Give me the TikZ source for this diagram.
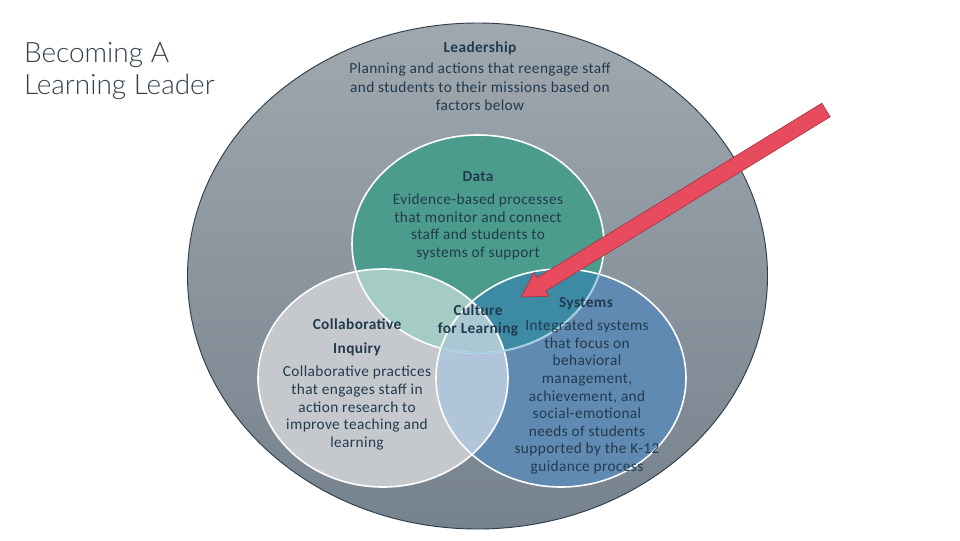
\documentclass[tikz,border=0pt]{standalone}
\usepackage{fontspec}
\setmainfont{Carlito}[LetterSpace=2.5]
\newfontfamily\titlefont{Lato Light}
\definecolor{bigtop}{RGB}{160,168,175}
\definecolor{bigbot}{RGB}{118,130,141}
\definecolor{bigedge}{RGB}{45,62,76}
\definecolor{datac}{RGB}{76,156,141}
\definecolor{collc}{RGB}{197,201,205}
\definecolor{sysc}{RGB}{96,138,178}
\definecolor{dcc}{RGB}{164,204,197}
\definecolor{dsc}{RGB}{60,138,163}
\definecolor{csc}{RGB}{176,197,218}
\definecolor{allc}{RGB}{170,200,212}
\definecolor{txt}{RGB}{34,58,78}
\definecolor{titlec}{RGB}{52,64,76}
\definecolor{arrowc}{RGB}{233,75,94}
\definecolor{arrowe}{RGB}{160,45,60}
\definecolor{ringblue}{RGB}{165,205,228}
\def\dataE{(478,244) ellipse [x radius=94.5pt, y radius=81.75pt]}
\def\collE{(383,378) ellipse [x radius=93.75pt, y radius=81.75pt]}
\def\sysE{(561,378) ellipse [x radius=93.75pt, y radius=81.75pt]}
\begin{document}
\begin{tikzpicture}[x=0.75pt,y=-0.75pt,
  every node/.style={inner sep=0pt, outer sep=0pt},
  head/.style={font=\fontsize{11.5}{13.5}\selectfont\bfseries, text=txt, align=center},
  body/.style={font=\fontsize{11.5}{13.2}\selectfont, text=txt, align=center},
  ring/.style={draw=white, line width=1.2pt}]
\useasboundingbox (0,0) rectangle (960,540);
\fill[white] (0,0) rectangle (960,540);
% outer leadership ellipse
\shadedraw[top color=bigtop, bottom color=bigbot, draw=bigedge, line width=0.7pt]
  (477.5,276) ellipse [x radius=217.5pt, y radius=189.75pt];
% venn fills
\fill[datac] \dataE;
\fill[collc] \collE;
\fill[sysc] \sysE;
\begin{scope}\clip \dataE; \fill[dcc] \collE;\end{scope}
\begin{scope}\clip \dataE; \fill[dsc] \sysE;\end{scope}
\begin{scope}\clip \collE; \fill[csc] \sysE;\end{scope}
\begin{scope}\clip \dataE; \clip \collE; \fill[allc] \sysE;\end{scope}
\draw[ring] \collE;
\draw[ring] \sysE;
\draw[ring] \dataE;
\begin{scope}\clip \sysE; \draw[ring, draw=ringblue] \dataE;\end{scope}
% title
\node[anchor=west, text=titlec, align=left, font=\titlefont\fontsize{21}{24}\selectfont] (title) at (24,71) {Becoming A\\Learning Leader};
% leadership
\node[head] (leadh) at (480,48) {Leadership};
\node[body, font=\fontsize{11.5}{14}\selectfont] (leadb) at (480,87) {Planning and actions that reengage staff\\and students to their missions based on\\factors below};
% data
\node[head] (datah) at (478,177) {Data};
\node[body] (datab) at (478,227) {Evidence-based processes\\that monitor and connect\\staff and students to\\systems of support};
% collaborative
\node[head, font=\fontsize{11.5}{18}\selectfont\bfseries] (collh) at (357,337) {Collaborative\\Inquiry};
\node[body] (collb) at (357,408) {Collaborative practices\\that engages staff in\\action research to\\improve teaching and\\learning};
% culture
\node[head] (cult) at (478,320) {Culture\\for Learning};
% systems
\node[head] (sysh) at (586,304) {Systems};
\node[body] (sysb) at (587,397) {Integrated systems\\that focus on\\behavioral\\management,\\achievement, and\\social-emotional\\needs of students\\supported by the K-12\\guidance process};
% arrow
\coordinate (atail) at (826,110);
\coordinate (atip) at (521,297);
\filldraw[fill=arrowc, draw=arrowe, line width=0.4pt, line join=miter]
  (821.8,103.2) -- (537.3,277.6) -- (534.1,272.5) -- (atip) -- (548.8,296.3) -- (545.6,291.2) -- (830.2,116.8) -- cycle;
\end{tikzpicture}
\end{document}
